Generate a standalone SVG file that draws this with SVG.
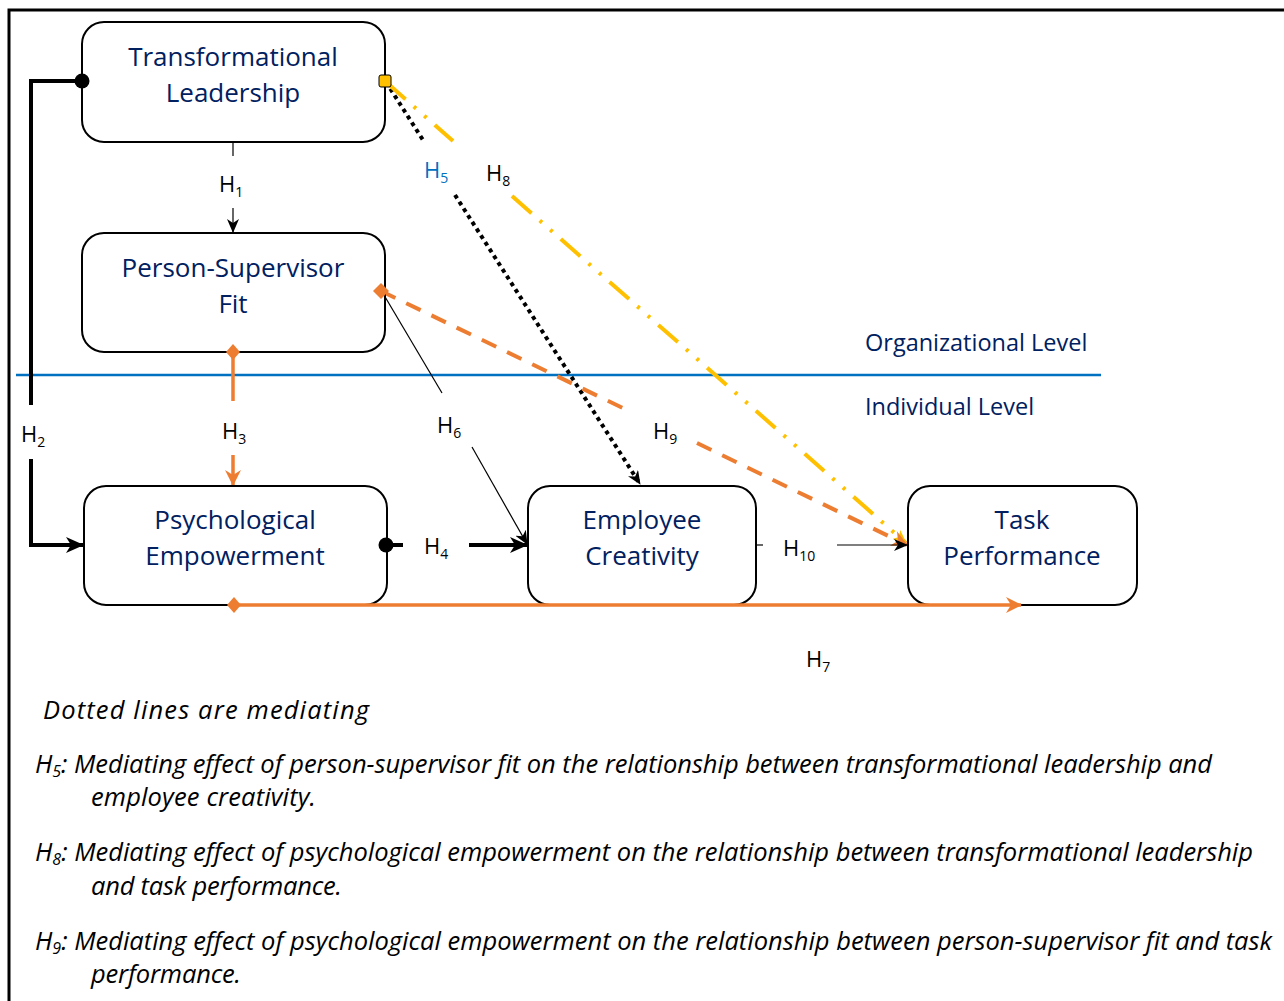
<svg xmlns="http://www.w3.org/2000/svg" width="1284" height="1001" viewBox="0 0 1284 1001">
<style>
.node rect{fill:#fff;stroke:#000;stroke-width:2}
.nt{font-family:"Open Sans",Lato,"Liberation Sans",sans-serif;font-size:26px;fill:#002060;text-anchor:middle}
.lbl{font-family:"Open Sans",Lato,"Liberation Sans",sans-serif;font-size:22px;fill:#000}
.sub{font-size:14px}
.lvl{font-family:"Open Sans",Lato,"Liberation Sans",sans-serif;font-size:23.5px;fill:#002060}
.leg{font-family:"Open Sans",Lato,"Liberation Sans",sans-serif;font-size:25.5px;font-style:italic;fill:#000;font-variant-ligatures:none}
.legsub{font-size:16px}
</style>
<defs>
<marker id="mThin" viewBox="0 0 14 12" refX="13" refY="6" markerWidth="14" markerHeight="12" markerUnits="userSpaceOnUse" orient="auto"><path d="M0,0 L14,6 L0,12 L4,6 z" fill="#000"/></marker>
<marker id="mThick" viewBox="0 0 18 16" refX="17" refY="8" markerWidth="18" markerHeight="16" markerUnits="userSpaceOnUse" orient="auto"><path d="M0,0 L18,8 L0,16 L5,8 z" fill="#000"/></marker>
<marker id="mOrange" viewBox="0 0 16 16" refX="15" refY="8" markerWidth="16" markerHeight="16" markerUnits="userSpaceOnUse" orient="auto"><path d="M0,0 L16,8 L0,16 L5,8 z" fill="#ED7D31"/></marker>
<marker id="mYellow" viewBox="0 0 14 12" refX="13" refY="6" markerWidth="14" markerHeight="12" markerUnits="userSpaceOnUse" orient="auto"><path d="M0,0 L14,6 L0,12 L4,6 z" fill="#FFC000"/></marker>
</defs>
<rect width="1284" height="1001" fill="#fff"/>
<path d="M9,1001 V10 H1284" fill="none" stroke="#000" stroke-width="3"/>
<line x1="16" y1="375" x2="1101" y2="375" stroke="#0070C0" stroke-width="2.5"/>
<text class="lvl" x="865" y="351">Organizational Level</text>
<text class="lvl" x="865" y="415">Individual Level</text>

<g id="connectors">
  <!-- H1 -->
  <line x1="233" y1="142" x2="233" y2="156" stroke="#000" stroke-width="1.2"/>
  <line x1="233" y1="208" x2="233" y2="232" stroke="#000" stroke-width="1.2" marker-end="url(#mThin)"/>
  <!-- H2 -->
  <path d="M82,81 H31 V405" fill="none" stroke="#000" stroke-width="4"/>
  <path d="M31,459 V545 H83" fill="none" stroke="#000" stroke-width="4" marker-end="url(#mThick)"/>
  <!-- H3 -->
  <line x1="233" y1="352" x2="233" y2="401" stroke="#ED7D31" stroke-width="3.5"/>
  <line x1="233" y1="455" x2="233" y2="485" stroke="#ED7D31" stroke-width="3.5" marker-end="url(#mOrange)"/>
  <!-- H4 -->
  <line x1="386" y1="545" x2="403" y2="545" stroke="#000" stroke-width="4"/>
  <line x1="469" y1="545" x2="527" y2="545" stroke="#000" stroke-width="4" marker-end="url(#mThick)"/>
  <!-- H5 -->
  <line x1="386" y1="82" x2="423" y2="140" stroke="#000" stroke-width="4" stroke-dasharray="4 4"/>
  <line x1="455" y1="195" x2="640" y2="484" stroke="#000" stroke-width="4" stroke-dasharray="4 4" marker-end="url(#mThin)"/>
  <!-- H6 -->
  <line x1="381" y1="290" x2="442" y2="393" stroke="#000" stroke-width="1.2"/>
  <line x1="472" y1="447" x2="527" y2="544" stroke="#000" stroke-width="1.2" marker-end="url(#mThin)"/>
  <!-- H8 -->
  <line x1="386" y1="82" x2="453" y2="141" stroke="#FFC000" stroke-width="4" stroke-dasharray="26 11 3 11 3 11"/>
  <line x1="512" y1="196" x2="906" y2="543" stroke="#FFC000" stroke-width="4" stroke-dasharray="26 11 3 11 3 11" marker-end="url(#mYellow)"/>
  <!-- H9 -->
  <line x1="381" y1="291" x2="633" y2="413" stroke="#ED7D31" stroke-width="4" stroke-dasharray="16 12"/>
  <line x1="697" y1="443" x2="907" y2="545" stroke="#ED7D31" stroke-width="4" stroke-dasharray="16 12" marker-end="url(#mOrange)"/>
  <!-- H10 -->
  <line x1="756" y1="545" x2="763" y2="545" stroke="#000" stroke-width="1.2"/>
  <line x1="837" y1="545" x2="907" y2="545" stroke="#000" stroke-width="1.2" marker-end="url(#mThin)"/>
</g>

<g id="node-tl" class="node">
  <rect x="82" y="22" width="303" height="120" rx="22"/>
  <text class="nt" x="233" y="66">Transformational</text>
  <text class="nt" x="233" y="102">Leadership</text>
</g>
<g id="node-psf" class="node">
  <rect x="82" y="233" width="303" height="119" rx="22"/>
  <text class="nt" x="233" y="277">Person-Supervisor</text>
  <text class="nt" x="233" y="313">Fit</text>
</g>
<g id="node-pe" class="node">
  <rect x="84" y="486" width="303" height="119" rx="22"/>
  <text class="nt" x="235" y="529">Psychological</text>
  <text class="nt" x="235" y="565">Empowerment</text>
</g>
<g id="node-ec" class="node">
  <rect x="528" y="486" width="228" height="119" rx="22"/>
  <text class="nt" x="642" y="529">Employee</text>
  <text class="nt" x="642" y="565">Creativity</text>
</g>
<g id="node-tp" class="node">
  <rect x="908" y="486" width="229" height="119" rx="22"/>
  <text class="nt" x="1022" y="529">Task</text>
  <text class="nt" x="1022" y="565">Performance</text>
</g>

<g id="connector-ends">
  <circle cx="82" cy="81" r="7.5" fill="#000"/>
  <circle cx="386" cy="545" r="7.5" fill="#000"/>
  <path d="M233,344 L240,352 L233,360 L226,352 z" fill="#ED7D31"/>
  <!-- H7 -->
  <line x1="234" y1="605" x2="1021" y2="605" stroke="#ED7D31" stroke-width="3.5" marker-end="url(#mOrange)"/>
  <path d="M234,597 L241,605 L234,613 L227,605 z" fill="#ED7D31"/>
  <path d="M381,283 L389,291 L381,299 L373,291 z" fill="#ED7D31"/>
  <rect x="379" y="75" width="12" height="12" rx="2" fill="#FFC000" stroke="#000" stroke-width="1"/>
</g>

<g id="labels">
  <text class="lbl" x="219" y="192">H<tspan class="sub" dy="5">1</tspan></text>
  <text class="lbl" x="21" y="442">H<tspan class="sub" dy="5">2</tspan></text>
  <text class="lbl" x="222" y="439">H<tspan class="sub" dy="5">3</tspan></text>
  <text class="lbl" x="424" y="554">H<tspan class="sub" dy="5">4</tspan></text>
  <text class="lbl" x="424" y="178" style="fill:#0070C0">H<tspan class="sub" dy="5">5</tspan></text>
  <text class="lbl" x="437" y="433">H<tspan class="sub" dy="5">6</tspan></text>
  <text class="lbl" x="806" y="667">H<tspan class="sub" dy="5">7</tspan></text>
  <text class="lbl" x="486" y="181">H<tspan class="sub" dy="5">8</tspan></text>
  <text class="lbl" x="653" y="439">H<tspan class="sub" dy="5">9</tspan></text>
  <text class="lbl" x="783" y="556">H<tspan class="sub" dy="5">10</tspan></text>
</g>

<g id="legend">
  <text class="leg" x="43" y="719" textLength="326">Dotted lines are mediating</text>
  <text class="leg" x="35" y="773" textLength="1177">H<tspan class="legsub" dy="4">5</tspan><tspan dy="-4">: Mediating effect of person-supervisor fit on the relationship between transformational leadership and</tspan></text>
  <text class="leg" x="91" y="806" textLength="225">employee creativity.</text>
  <text class="leg" x="35" y="861" textLength="1218">H<tspan class="legsub" dy="4">8</tspan><tspan dy="-4">: Mediating effect of psychological empowerment on the relationship between transformational leadership</tspan></text>
  <text class="leg" x="91" y="895" textLength="251">and task performance.</text>
  <text class="leg" x="35" y="950" textLength="1237">H<tspan class="legsub" dy="4">9</tspan><tspan dy="-4">: Mediating effect of psychological empowerment on the relationship between person-supervisor fit and task</tspan></text>
  <text class="leg" x="91" y="983" textLength="150">performance.</text>
</g>
</svg>
